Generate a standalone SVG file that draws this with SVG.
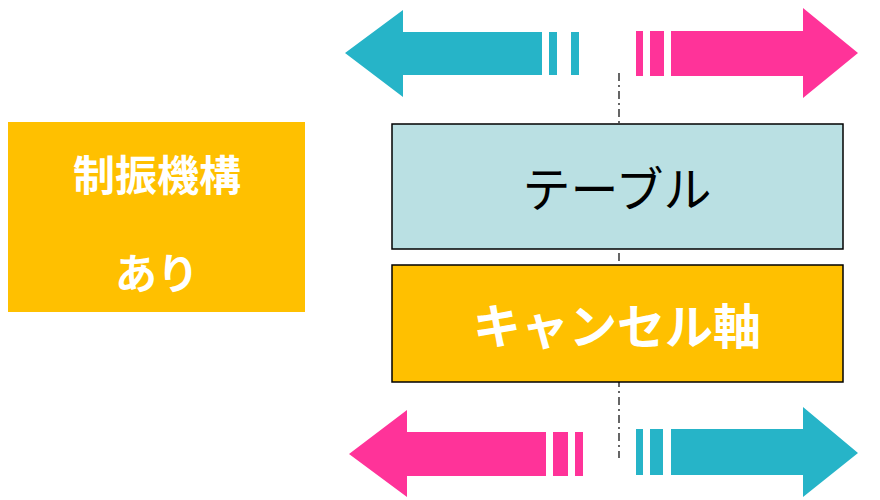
<svg xmlns="http://www.w3.org/2000/svg" width="880" height="500" viewBox="0 0 880 500">
<style>
.c{fill:#26B4C8}.p{fill:#FF3399}
.t{font-family:"Noto Sans CJK JP",sans-serif;text-anchor:middle;dominant-baseline:central}
.w{fill:#fff;font-weight:bold}
</style>
<rect width="880" height="500" fill="#fff"/>
<g id="arrows">
<g class="c"><polygon points="345,53 403,10 403,32 542,32 542,75 403,75 403,97"/><rect x="549" y="32" width="8" height="43"/><rect x="571" y="32" width="8" height="43"/></g>
<g class="p"><polygon points="858,53 803,8 803,31 671,31 671,76 803,76 803,98"/><rect x="636" y="31" width="7" height="45"/><rect x="650" y="31" width="14" height="45"/></g>
<g class="p"><polygon points="349,454 407,410 407,432 546,432 546,476 407,476 407,497"/><rect x="553" y="432" width="15" height="44"/><rect x="575" y="432" width="8" height="44"/></g>
<g class="c"><polygon points="858,453 803,407 803,429 671,429 671,475 803,475 803,497"/><rect x="636" y="429" width="7" height="46"/><rect x="650" y="429" width="13" height="46"/></g>
<line x1="619" y1="73" x2="619" y2="458" stroke="#000" stroke-width="1.2" stroke-dasharray="8,4,2,4"/>
</g>
<g id="left"><rect x="8" y="122" width="297" height="190" fill="#FFC000"/>
<text class="t w" x="157" y="172" font-size="42">制振機構</text>
<text class="t w" x="157" y="270" font-size="42">あり</text></g>
<g id="table"><rect x="392" y="124" width="451" height="125" fill="#BAE0E3" stroke="#000" stroke-width="1.5"/>
<text class="t" x="617" y="186" font-size="48" fill="#000">テーブル</text></g>
<g id="cancel"><rect x="392" y="265" width="451" height="117" fill="#FFC000" stroke="#000" stroke-width="1.5"/>
<text class="t w" x="617" y="323" font-size="48">キャンセル軸</text></g>
</svg>
